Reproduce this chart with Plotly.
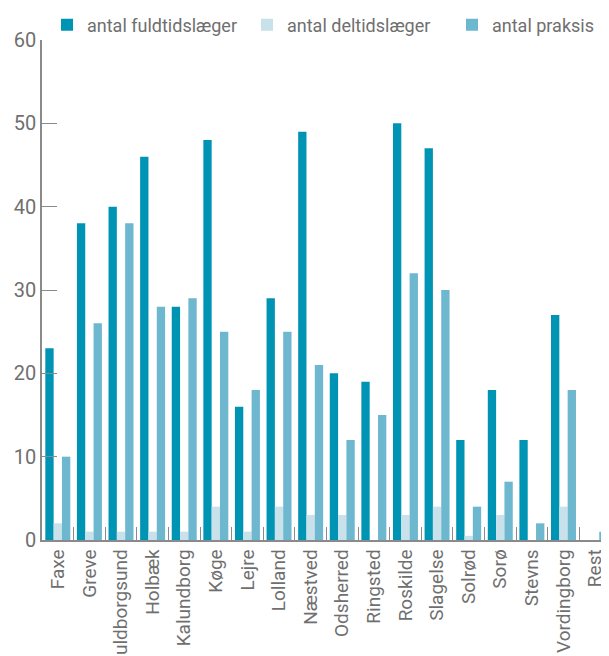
import plotly.graph_objects as go

kommuner = ['Faxe', 'Greve', 'Guldborgsund', 'Holbæk', 'Kalundborg', 'Køge', 'Lejre',
            'Lolland', 'Næstved', 'Odsherred', 'Ringsted', 'Roskilde', 'Slagelse',
            'Solrød', 'Sorø', 'Stevns', 'Vordingborg', 'Rest']
fuldtid = [23, 38, 40, 46, 28, 48, 16, 29, 49, 20, 19, 50, 47, 12, 18, 12, 27, 0]
deltid = [2, 1, 1, 1, 1, 4, 1, 4, 3, 3, 0, 3, 4, 0.5, 3, 0, 4, 0]
praksis = [10, 26, 38, 28, 29, 25, 18, 25, 21, 12, 15, 32, 30, 4, 7, 2, 18, 1]

FONT = 'Roboto'
grey = '#6f6f6f'
axis_c = '#8a8a8a'
# siden har 8px body-margin, så figuren gøres 8px mindre
W, H = 601, 648

fig = go.Figure()
series = [
    ('antal fuldtidslæger', fuldtid, '#0094B4', 'legend', 39),
    ('antal deltidslæger', deltid, '#C8E1EA', 'legend2', 239),
    ('antal praksis', praksis, '#6DB7CF', 'legend3', 444),
]
legends = {}
for name, vals, col, lg, lx in series:
    fig.add_trace(go.Bar(x=kommuner, y=vals, name=name, marker_color=col,
                         marker_line_width=0, legend=lg))
    # en legende pr. serie, så positionerne kan matche originalen
    legends[lg] = dict(orientation='h', xref='container', yref='container',
                       x=lx / W, y=1 - 17 / H, xanchor='left', yanchor='middle',
                       font=dict(family=FONT, size=18, color=grey),
                       bgcolor='rgba(0,0,0,0)')

fig.update_layout(
    width=W, height=H, showlegend=True,
    margin=dict(l=34, r=0, t=32, b=116, autoexpand=False),
    paper_bgcolor='white', plot_bgcolor='white',
    barmode='group', bargap=0.21, bargroupgap=0,
    font=dict(family=FONT, color=grey),
    xaxis=dict(
        range=[-0.5, 17.44], showline=True, linecolor=axis_c, linewidth=1.5,
        ticks='inside', tickson='boundaries', ticklen=13, tickcolor=axis_c,
        tickangle=-90, tickfont=dict(family=FONT, size=19, color=grey),
        showgrid=False, automargin=False,
    ),
    yaxis=dict(
        range=[0, 60], dtick=10, showline=True, linecolor=axis_c, linewidth=1.5,
        ticks='inside', ticklen=15, tickcolor=axis_c, showgrid=False, zeroline=False,
        tickfont=dict(family=FONT, size=20, color=grey), automargin=False,
    ),
    **legends,
)

fig.write_html('out.html')
